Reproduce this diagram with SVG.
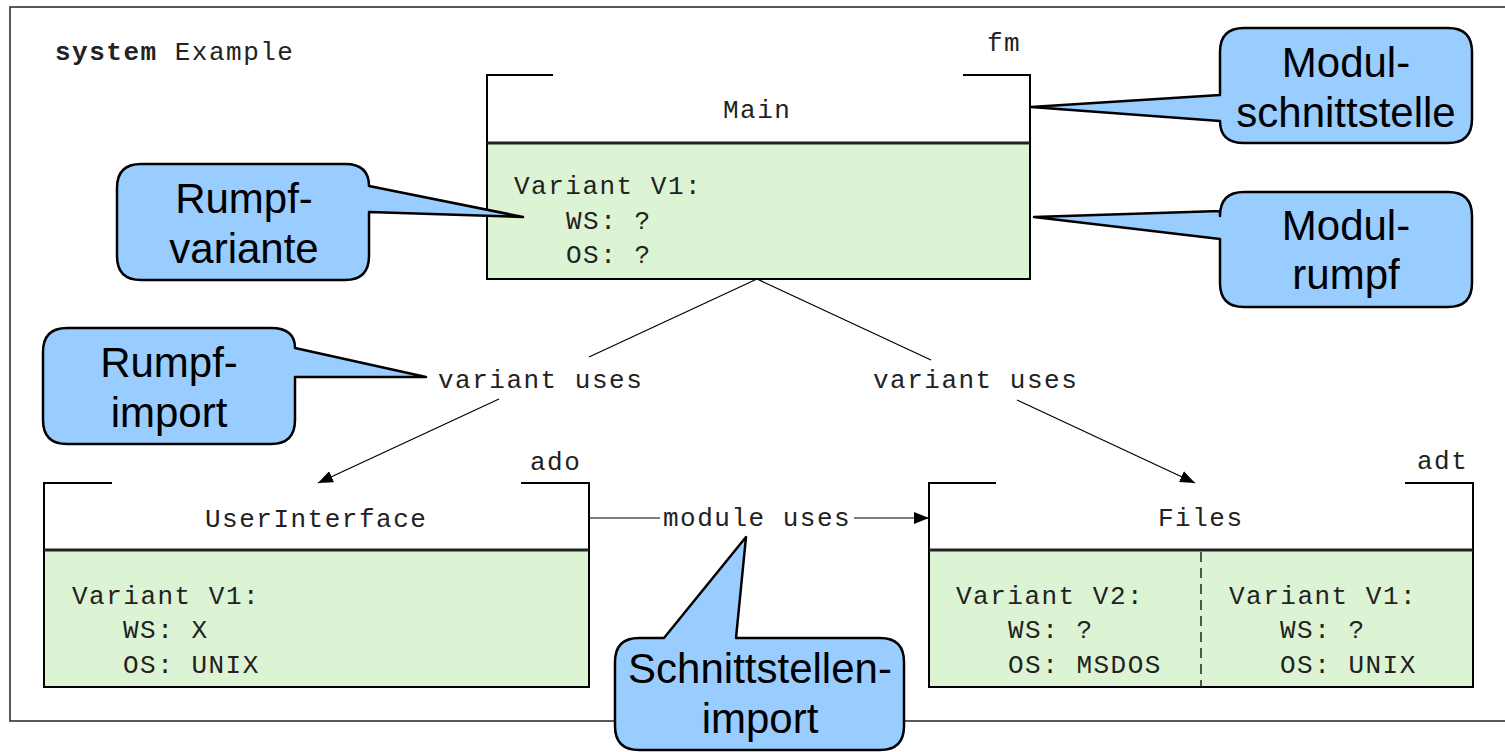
<svg xmlns="http://www.w3.org/2000/svg" width="1505" height="752" viewBox="0 0 1505 752">
<style>
.mono{font-family:"Liberation Mono","Courier New",monospace;font-size:26px;letter-spacing:1.5px;fill:#222}
.bold{font-weight:bold}
.call{fill:#99ccff;stroke:#000;stroke-width:2.5;stroke-linejoin:round}
.ctext{font-family:"Liberation Sans",Arial,sans-serif;font-size:42px;fill:#000;text-anchor:middle}
.body{fill:#dcf4d4;stroke:#000;stroke-width:2}
.head{fill:#fff;stroke:none}
.edge{stroke:#000;stroke-width:2;fill:none}
.div{stroke:#222;stroke-width:3}
.conn{stroke:#000;stroke-width:1.2;fill:none}
</style>
<defs>
<marker id="ah" markerUnits="userSpaceOnUse" markerWidth="16" markerHeight="12" refX="15" refY="6" orient="auto">
<path d="M0,0 L15,6 L0,12 Z" fill="#000"/>
</marker>
</defs>
<rect width="1505" height="752" fill="#fff"/>
<rect x="10" y="7" width="1510" height="714" fill="none" stroke="#222" stroke-width="1.5"/>
<text class="mono" x="55" y="60"><tspan class="bold">system</tspan> Example</text>

<g id="main">
<rect class="body" x="487" y="143" width="543" height="136"/>
<path class="edge" d="M553,75 H487 V279 M963,75 H1030 V279"/>
<line class="div" x1="487" y1="143" x2="1030" y2="143"/>
<text class="mono" x="723" y="118">Main</text>
<text class="mono" x="987" y="51">fm</text>
<text class="mono" x="514" y="194">Variant V1:</text>
<text class="mono" x="566" y="229">WS: ?</text>
<text class="mono" x="566" y="263">OS: ?</text>
</g>

<g id="userinterface">
<rect class="body" x="44" y="550" width="545" height="137"/>
<path class="edge" d="M112,483 H44 V687 M521,483 H589 V687"/>
<line class="div" x1="44" y1="550" x2="589" y2="550"/>
<text class="mono" x="205" y="527">UserInterface</text>
<text class="mono" x="530" y="470">ado</text>
<text class="mono" x="72" y="604">Variant V1:</text>
<text class="mono" x="123" y="638">WS: X</text>
<text class="mono" x="123" y="673">OS: UNIX</text>
</g>

<g id="files">
<rect class="body" x="929" y="550" width="544" height="137"/>
<path class="edge" d="M996,483 H929 V687 M1405,483 H1473 V687"/>
<line class="div" x1="929" y1="550" x2="1473" y2="550"/>
<line x1="1201" y1="552" x2="1201" y2="687" stroke="#222" stroke-width="1.5" stroke-dasharray="10,6"/>
<text class="mono" x="1158" y="526">Files</text>
<text class="mono" x="1417" y="469">adt</text>
<text class="mono" x="956" y="604">Variant V2:</text>
<text class="mono" x="1008" y="638">WS: ?</text>
<text class="mono" x="1008" y="673">OS: MSDOS</text>
<text class="mono" x="1229" y="604">Variant V1:</text>
<text class="mono" x="1280" y="638">WS: ?</text>
<text class="mono" x="1280" y="673">OS: UNIX</text>
</g>

<g id="connectors">
<line class="conn" x1="757" y1="279" x2="589" y2="357"/>
<line class="conn" x1="499" y1="399" x2="318" y2="483" marker-end="url(#ah)"/>
<text class="mono" x="438" y="388">variant uses</text>
<line class="conn" x1="757" y1="279" x2="931" y2="360"/>
<line class="conn" x1="1017" y1="400" x2="1195" y2="483" marker-end="url(#ah)"/>
<text class="mono" x="873" y="388">variant uses</text>
<line class="conn" x1="589" y1="518" x2="660" y2="518"/>
<line class="conn" x1="854" y1="518" x2="929" y2="518" marker-end="url(#ah)"/>
<text class="mono" x="663" y="526">module uses</text>
</g>

<g id="callout-modul-schnittstelle">
<path class="call" d="M1244,28 H1448 Q1472,28 1472,52 V119 Q1472,143 1448,143 H1244 Q1220,143 1220,121 L1031,107 L1220,95 V52 Q1220,28 1244,28 Z"/>
<text class="ctext" x="1346" y="77">Modul-</text>
<text class="ctext" x="1346" y="127">schnittstelle</text>
</g>

<g id="callout-modul-rumpf">
<path class="call" d="M1244,192 H1448 Q1472,192 1472,216 V283 Q1472,307 1448,307 H1244 Q1220,307 1220,283 V239 L1034,217 L1220,211 V216 Q1220,192 1244,192 Z"/>
<text class="ctext" x="1346" y="240">Modul-</text>
<text class="ctext" x="1346" y="289">rumpf</text>
</g>

<g id="callout-rumpf-variante">
<path class="call" d="M141,164 H345 Q369,164 369,186 L523,217 L369,212 V256 Q369,280 345,280 H141 Q117,280 117,256 V188 Q117,164 141,164 Z"/>
<text class="ctext" x="244" y="213">Rumpf-</text>
<text class="ctext" x="244" y="263">variante</text>
</g>

<g id="callout-rumpf-import">
<path class="call" d="M67,328 H271 Q295,328 295,348 L426,377 H295 V420 Q295,444 271,444 H67 Q43,444 43,420 V352 Q43,328 67,328 Z"/>
<text class="ctext" x="169" y="377">Rumpf-</text>
<text class="ctext" x="169" y="427">import</text>
</g>

<g id="callout-schnittstellen-import">
<path class="call" d="M639,638 H664 L746,537 L736,638 H880 Q904,638 904,662 V726 Q904,750 880,750 H639 Q615,750 615,726 V662 Q615,638 639,638 Z"/>
<text class="ctext" x="760" y="683">Schnittstellen-</text>
<text class="ctext" x="760" y="733">import</text>
</g>
</svg>
